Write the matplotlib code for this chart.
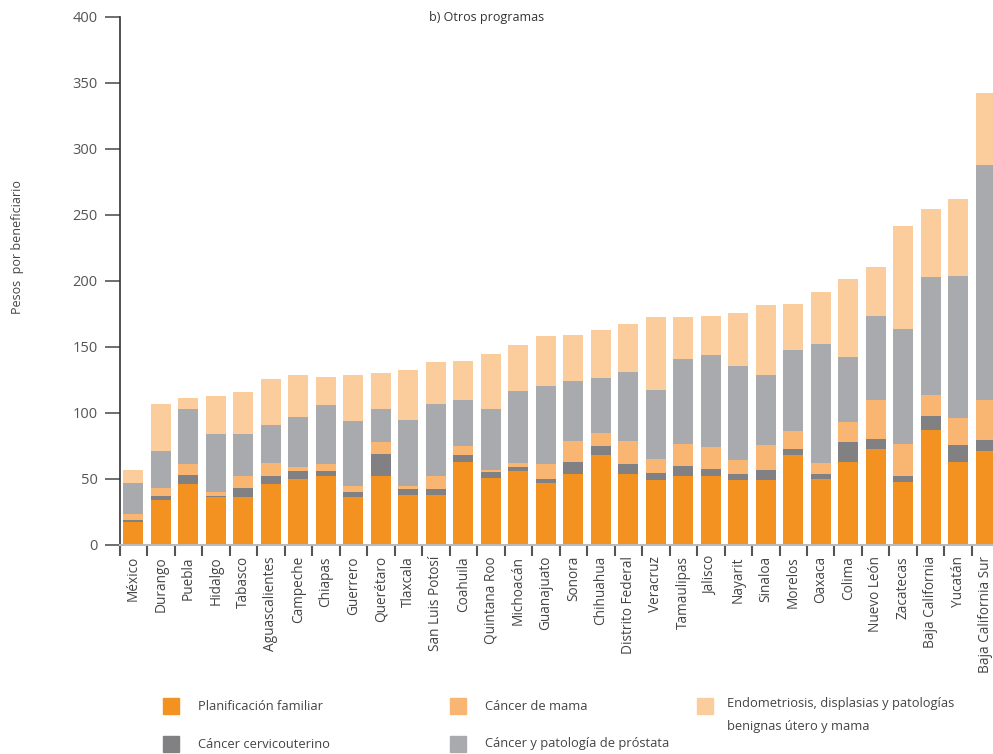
import matplotlib.pyplot as plt
from matplotlib.patches import Rectangle

plt.rcParams['font.family'] = ['Open Sans', 'DejaVu Sans']

estados = ['México', 'Durango', 'Puebla', 'Hidalgo', 'Tabasco', 'Aguascalientes',
           'Campeche', 'Chiapas', 'Guerrero', 'Querétaro', 'Tlaxcala', 'San Luis Potosí',
           'Coahuila', 'Quintana Roo', 'Michoacán', 'Guanajuato', 'Sonora', 'Chihuahua',
           'Distrito Federal', 'Veracruz', 'Tamaulipas', 'Jalisco', 'Nayarit', 'Sinaloa',
           'Morelos', 'Oaxaca', 'Colima', 'Nuevo León', 'Zacatecas', 'Baja California',
           'Yucatán', 'Baja California Sur']

planificacion = [17.7, 34.3, 46.4, 36.6, 36.6, 46.4, 50.2, 52.5, 36.6, 52.5, 37.9, 37.9,
                 62.9, 50.8, 56.1, 47.0, 53.8, 68.2, 53.8, 49.2, 52.3, 52.3, 49.2, 49.2,
                 68.2, 50.0, 62.9, 72.7, 47.7, 87.1, 62.9, 71.2]
cervicouterino = [1.5, 3.1, 6.9, 0.8, 6.8, 6.1, 6.1, 3.8, 3.8, 16.7, 4.5, 4.5,
                  5.3, 4.5, 3.0, 3.0, 9.1, 6.8, 7.6, 5.3, 7.5, 5.3, 4.6, 7.6,
                  4.5, 3.8, 15.1, 7.6, 4.6, 10.6, 12.9, 8.3]
mama = [4.5, 6.0, 8.3, 3.0, 9.1, 9.8, 3.0, 5.3, 4.5, 9.1, 2.3, 9.9,
        6.8, 1.5, 3.0, 11.4, 15.9, 9.8, 17.4, 10.7, 16.7, 16.6, 10.6, 19.0,
        13.7, 8.3, 15.2, 29.5, 24.2, 15.9, 20.4, 30.3]
prostata = [23.5, 28.0, 41.7, 43.9, 31.8, 28.8, 37.9, 44.7, 49.3, 25.0, 50.0, 54.5,
            34.8, 46.2, 54.6, 59.1, 45.4, 41.7, 52.3, 52.2, 64.4, 69.7, 71.2, 53.0,
            61.3, 90.2, 49.2, 63.7, 87.1, 89.4, 107.6, 178.1]
endometriosis = [9.8, 35.6, 8.3, 28.8, 31.8, 34.9, 31.8, 21.2, 34.8, 27.2, 37.9, 31.8,
                 29.6, 41.7, 34.8, 37.8, 34.9, 36.4, 36.3, 55.3, 31.8, 29.6, 40.2, 53.0,
                 34.9, 39.4, 59.1, 37.1, 78.1, 51.5, 58.3, 54.5]

series = [
    ('Planificación familiar', planificacion, '#f39220'),
    ('Cáncer cervicouterino', cervicouterino, '#818184'),
    ('Cáncer de mama', mama, '#f9b672'),
    ('Cáncer y patología de próstata', prostata, '#a9aaad'),
    ('Endometriosis, displasias y patologías\nbenignas útero y mama', endometriosis, '#fbcd9c'),
]

fig = plt.figure(figsize=(9.93, 7.54), dpi=100)
ax = fig.add_axes([0.1205, 0.2772, 0.886, 0.7003])

x = list(range(len(estados)))
bottom = [0.0] * len(estados)
for name, vals, color in series:
    ax.bar(x, vals, width=0.73, bottom=bottom, color=color, label=name, zorder=2)
    bottom = [b + v for b, v in zip(bottom, vals)]

ax.set_xlim(-0.5, len(estados) - 0.5)
ax.set_ylim(0, 400)
ax.set_yticks(range(0, 401, 50))
ax.tick_params(axis='y', direction='out', length=11, width=1.2, color='#555555',
               labelsize=10.5, labelcolor='#555555', pad=5)

ax.set_xticks(x)
ax.set_xticklabels(estados, rotation=90, fontsize=9.8, color='#444444')
ax.tick_params(axis='x', length=0, pad=8)
ax.set_xticks([i - 0.5 for i in range(len(estados) + 1)], minor=True)
ax.tick_params(axis='x', which='minor', length=8, width=1.5, color='#555555')

for s in ['top', 'right']:
    ax.spines[s].set_visible(False)
ax.spines['left'].set_color('#333333')
ax.spines['left'].set_linewidth(1.2)
ax.spines['bottom'].set_color('#bbbbbb')
ax.spines['bottom'].set_linewidth(1.5)

fig.text(0.018, 0.672, 'Pesos  por beneficiario', rotation=90, ha='center', va='center',
         fontsize=9, color='#444444')
fig.text(0.49, 0.977, 'b) Otros programas', ha='center', va='center', fontsize=9,
         color='#333333')

# leyenda manual
pos = {
    'Planificación familiar': (163, 706),
    'Cáncer cervicouterino': (163, 744),
    'Cáncer de mama': (450, 706),
    'Cáncer y patología de próstata': (450, 744),
}
W, H = 993.0, 754.0
for name, vals, color in series:
    if name in pos:
        px, py = pos[name]
        tx = px + 35
        fig.text(tx / W, 1 - py / H, name, ha='left', va='center',
                 fontsize=9.3, color='#444444')
    else:
        px, py = 697, 706
        fig.text(727 / W, 1 - 697 / H, name, ha='left', va='top',
                 fontsize=9.3, color='#444444', linespacing=2.0)
    fig.patches.append(Rectangle((px / W, 1 - (py + 8) / H), 16 / W, 16 / H,
                                 transform=fig.transFigure, color=color))

fig.savefig('out.png', dpi=100)
